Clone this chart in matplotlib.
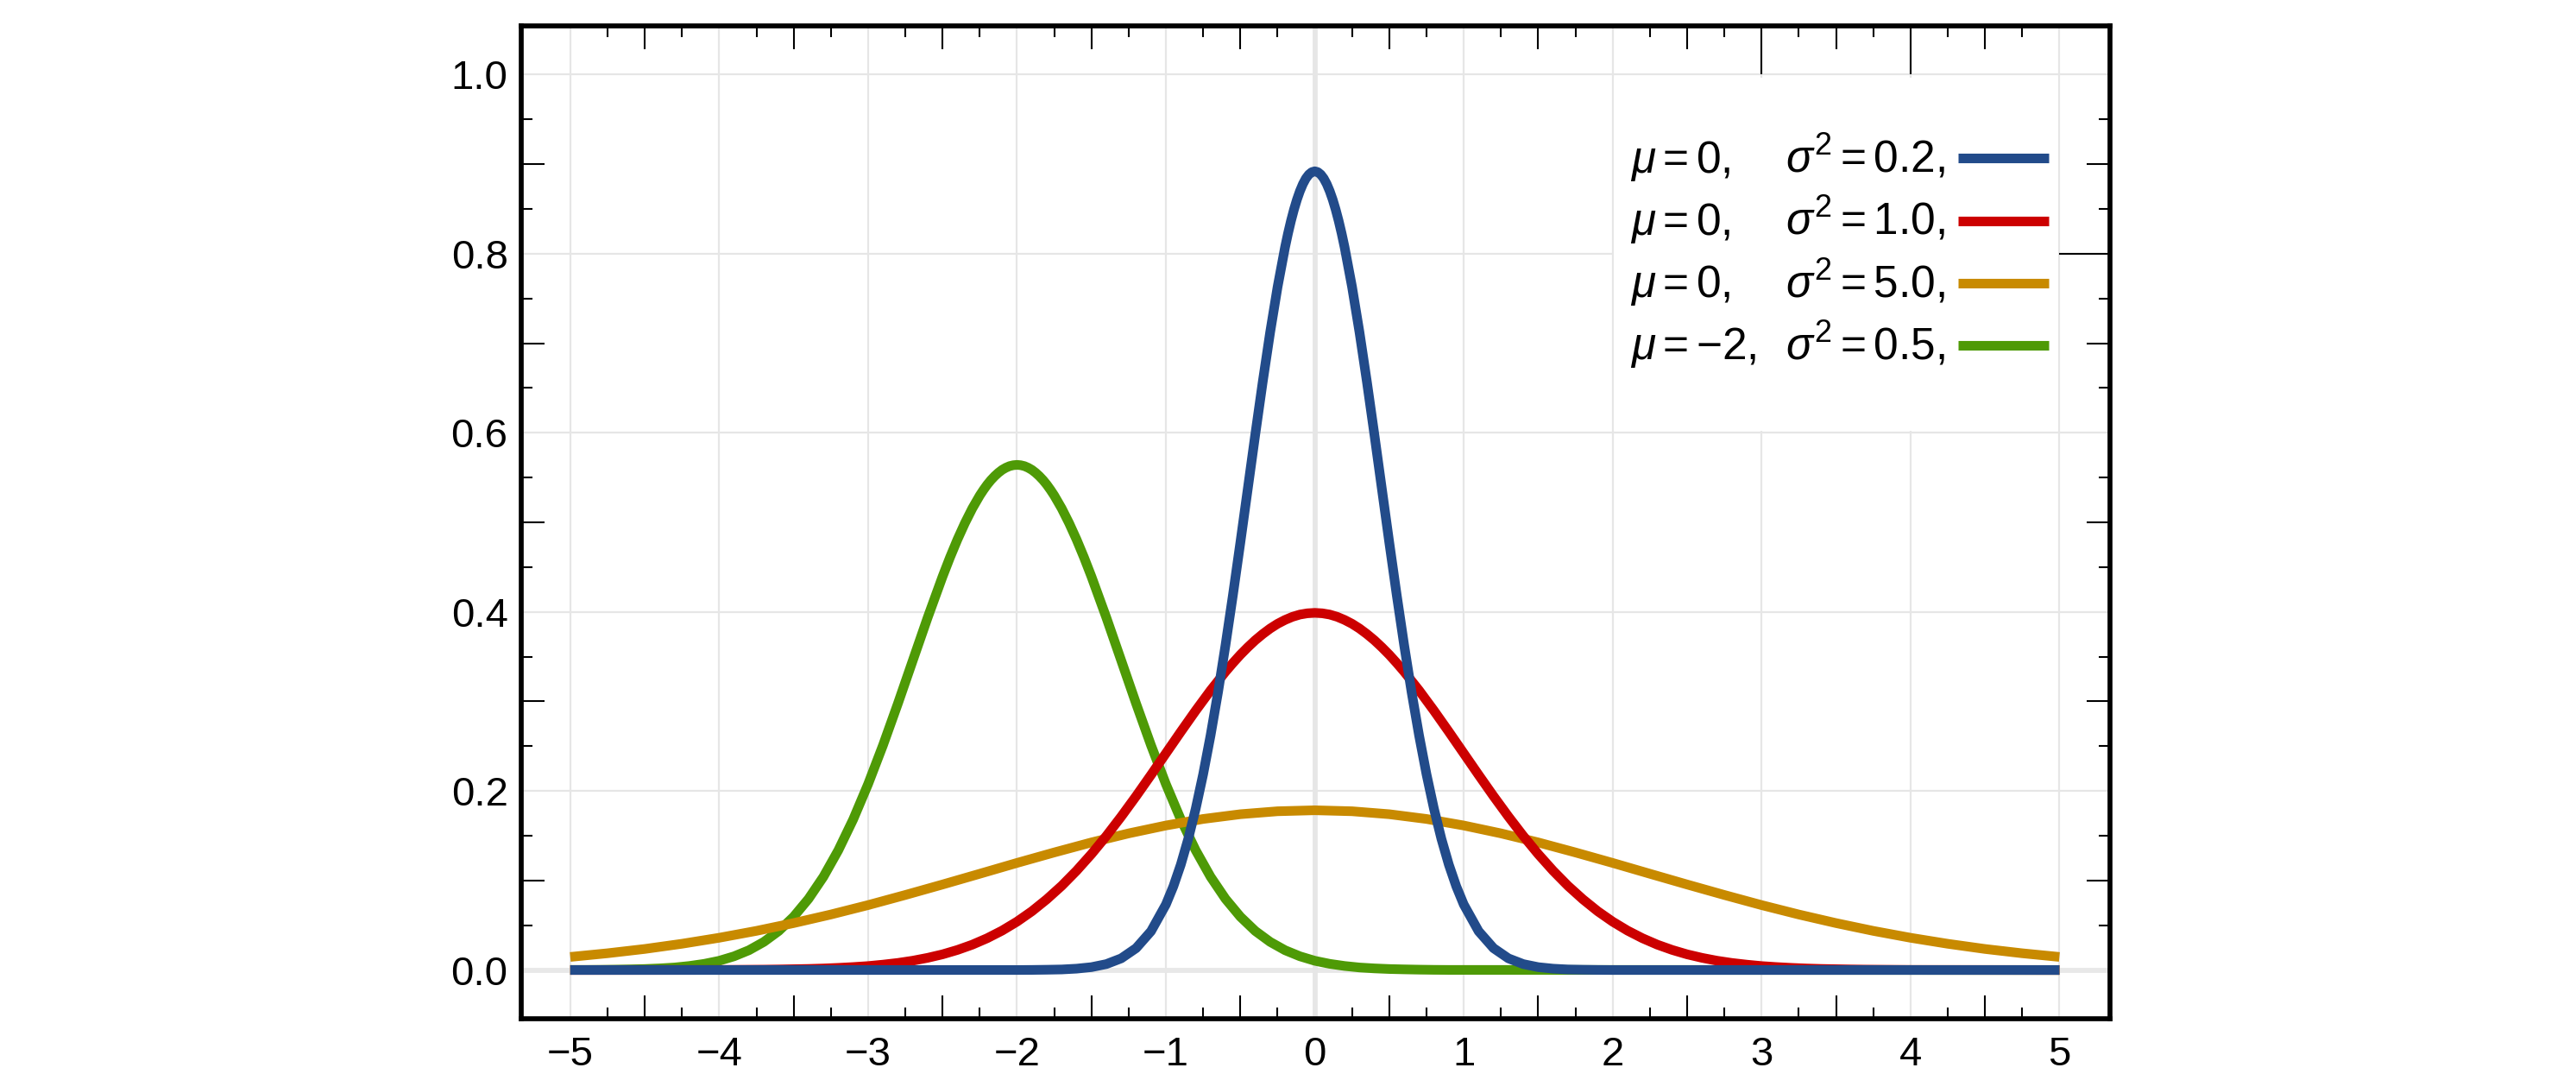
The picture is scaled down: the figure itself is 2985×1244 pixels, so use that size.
import matplotlib
matplotlib.use('Agg')
import matplotlib.pyplot as plt
import numpy as np
from matplotlib.patches import Rectangle

plt.rcParams['font.family'] = ['Liberation Sans', 'DejaVu Sans']
plt.rcParams['mathtext.fontset'] = 'custom'
plt.rcParams['mathtext.rm'] = 'Liberation Sans'
plt.rcParams['mathtext.it'] = 'Liberation Sans:italic'
plt.rcParams['mathtext.bf'] = 'Liberation Sans:bold'

## values (denser sampling where the curves bend sharply)

# mu=0, sigma^2=0.2
x_blue = np.concatenate(([-5.0], np.linspace(-2.0, -1.1, 10), np.linspace(-1.0, -0.25, 16),
                         np.linspace(-0.2, 0.2, 21), np.linspace(0.25, 1.0, 16),
                         np.linspace(1.1, 2.0, 10), [5.0]))
y_blue = [0.0,
          0.0000, 0.0001, 0.0003, 0.0006, 0.0015, 0.0032, 0.0066, 0.0130, 0.0244, 0.0433,
          0.0732, 0.0934, 0.1177, 0.1465, 0.1801, 0.2186, 0.2621, 0.3102, 0.3627, 0.4188,
          0.4775, 0.5377, 0.5980, 0.6567, 0.7123, 0.7630,
          0.8072, 0.8227, 0.8368, 0.8494, 0.8605, 0.8700, 0.8779, 0.8841, 0.8885, 0.8912,
          0.8921,
          0.8912, 0.8885, 0.8841, 0.8779, 0.8700, 0.8605, 0.8494, 0.8368, 0.8227, 0.8072,
          0.7630, 0.7123, 0.6567, 0.5980, 0.5377, 0.4775, 0.4188, 0.3627, 0.3102, 0.2621,
          0.2186, 0.1801, 0.1465, 0.1177, 0.0934, 0.0732,
          0.0433, 0.0244, 0.0130, 0.0066, 0.0032, 0.0015, 0.0006, 0.0003, 0.0001, 0.0000,
          0.0]

# mu=0, sigma^2=1.0
x_red = np.concatenate(([-5.0], np.linspace(-4.0, -0.7, 34), np.linspace(-0.6, 0.6, 25),
                        np.linspace(0.7, 4.0, 34), [5.0]))
y_red = [0.0,
         0.0001, 0.0002, 0.0003, 0.0004, 0.0006, 0.0009, 0.0012, 0.0017, 0.0024, 0.0033,
         0.0044, 0.0060, 0.0079, 0.0104, 0.0136, 0.0175, 0.0224, 0.0283, 0.0355, 0.0440,
         0.0540, 0.0656, 0.0790, 0.0940, 0.1109, 0.1295, 0.1497, 0.1714, 0.1942, 0.2179,
         0.2420, 0.2661, 0.2897, 0.3123,
         0.3332, 0.3429, 0.3521, 0.3605, 0.3683, 0.3752, 0.3814, 0.3867, 0.3910, 0.3945,
         0.3970, 0.3984, 0.3989, 0.3984, 0.3970, 0.3945, 0.3910, 0.3867, 0.3814, 0.3752,
         0.3683, 0.3605, 0.3521, 0.3429, 0.3332,
         0.3123, 0.2897, 0.2661, 0.2420, 0.2179, 0.1942, 0.1714, 0.1497, 0.1295, 0.1109,
         0.0940, 0.0790, 0.0656, 0.0540, 0.0440, 0.0355, 0.0283, 0.0224, 0.0175, 0.0136,
         0.0104, 0.0079, 0.0060, 0.0044, 0.0033, 0.0024, 0.0017, 0.0012, 0.0009, 0.0006,
         0.0004, 0.0003, 0.0002, 0.0001,
         0.0]

# mu=0, sigma^2=5.0
x_orange = np.linspace(-5.0, 5.0, 41)
y_orange = [0.0146, 0.0187, 0.0235, 0.0293, 0.0360, 0.0437, 0.0524, 0.0620, 0.0725, 0.0838,
            0.0955, 0.1075, 0.1196, 0.1313, 0.1425, 0.1526, 0.1614, 0.1687, 0.1740, 0.1773,
            0.1784,
            0.1773, 0.1740, 0.1687, 0.1614, 0.1526, 0.1425, 0.1313, 0.1196, 0.1075, 0.0955,
            0.0838, 0.0725, 0.0620, 0.0524, 0.0437, 0.0360, 0.0293, 0.0235, 0.0187, 0.0146]

# mu=-2, sigma^2=0.5
x_green = np.concatenate((np.linspace(-5.0, -2.5, 26), np.linspace(-2.45, -2.3, 4),
                          np.linspace(-2.25, -1.75, 21), np.linspace(-1.7, -1.55, 4),
                          np.linspace(-1.5, 1.0, 26), [5.0]))
y_green = [0.0001, 0.0001, 0.0002, 0.0004, 0.0007, 0.0011, 0.0018, 0.0028, 0.0045, 0.0069,
           0.0103, 0.0153, 0.0221, 0.0314, 0.0436, 0.0595, 0.0795, 0.1041, 0.1337, 0.1682,
           0.2076, 0.2510, 0.2975, 0.3456, 0.3936, 0.4394,
           0.4608, 0.4808, 0.4991, 0.5156,
           0.5300, 0.5363, 0.5421, 0.5472, 0.5516, 0.5554, 0.5586, 0.5610, 0.5628, 0.5638,
           0.5642,
           0.5638, 0.5628, 0.5610, 0.5586, 0.5554, 0.5516, 0.5472, 0.5421, 0.5363, 0.5300,
           0.5156, 0.4991, 0.4808, 0.4608,
           0.4394, 0.3936, 0.3456, 0.2975, 0.2510, 0.2076, 0.1682, 0.1337, 0.1041, 0.0795,
           0.0595, 0.0436, 0.0314, 0.0221, 0.0153, 0.0103, 0.0069, 0.0045, 0.0028, 0.0018,
           0.0011, 0.0007, 0.0004, 0.0002, 0.0001, 0.0001,
           0.0]

mu_labels = [r'$\mu=0,$', r'$\mu=0,$', r'$\mu=0,$', r'$\mu={-}2,$']
sig_labels = [r'$\sigma^2=0.2,$', r'$\sigma^2=1.0,$', r'$\sigma^2=5.0,$', r'$\sigma^2=0.5,$']
colors = ['#224b8a', '#cc0000', '#c88a00', '#4e9a06']

x_labels = np.arange(-5, 6)
y_labels = np.arange(0, 1.01, 0.2)

## plot

fig = plt.figure(figsize=(29.85, 12.44), dpi=100)
ax = fig.add_axes([0.2023, 0.0514, 0.6168, 0.9245])
xmin, xmax = -5.33, 5.34
ymin, ymax = -0.0545, 1.0545
ax.set_xlim(xmin, xmax)
ax.set_ylim(ymin, ymax)

lw = 8.0
ax.plot(x_green, y_green, color=colors[3], lw=lw, solid_capstyle='butt', zorder=3)
ax.plot(x_orange, y_orange, color=colors[2], lw=lw, solid_capstyle='butt', zorder=4)
ax.plot(x_red, y_red, color=colors[1], lw=lw, solid_capstyle='butt', zorder=5)
ax.plot(x_blue, y_blue, color=colors[0], lw=lw, solid_capstyle='butt', zorder=6)

# grid, zero lines a bit heavier
ax.set_axisbelow(True)
ax.grid(which='major', color='#e6e6e6', lw=1.6)
ax.axhline(0, color='#e8e8e8', lw=4.2, zorder=0.6)
ax.axvline(0, color='#e6e6e6', lw=4.2, zorder=0.6)

# labels at integers / 0.2 steps, no tick marks there
ax.set_xticks(x_labels)
ax.set_yticks(y_labels)
ax.set_yticklabels([f'{v:.1f}' for v in y_labels])
ax.set_xticks(np.arange(-4.5, 5, 1.0), minor=True)
ax.set_yticks(np.arange(0.1, 1.0, 0.2), minor=True)
ax.tick_params(which='major', length=0, labelsize=34)
ax.tick_params(axis='x', which='major', pad=14)
ax.tick_params(axis='y', which='major', pad=11)
ax.tick_params(which='minor', direction='in', length=19.5, width=1.5,
               top=True, bottom=True, left=True, right=True)

# short quarter ticks
qx = list(np.arange(-4.75, 5, 0.5))
qy = list(np.arange(0.05, 1.0, 0.1))
for loc in ['bottom', 'top']:
    sec = ax.secondary_xaxis(loc)
    sec.set_xticks(qx, labels=[])
    sec.tick_params(direction='in', length=9.5, width=1.5)
    sec.spines[loc].set_visible(False)
for loc in ['left', 'right']:
    sec = ax.secondary_yaxis(loc)
    sec.set_yticks(qy, labels=[])
    sec.tick_params(direction='in', length=9.5, width=1.5)
    sec.spines[loc].set_visible(False)

for s in ax.spines.values():
    s.set_linewidth(4.1)
    s.set_zorder(10)

# legend panel
ax.add_patch(Rectangle((2.005, 0.602), 2.99, 0.395, fc='white', ec='none', zorder=1))
ax.vlines([3, 4], 1.0, ymax, color='black', lw=1.5, zorder=2)
ax.hlines([0.8], 5.0, xmax, color='black', lw=1.5, zorder=2)

for i in range(4):
    yb = 0.891 - i * 0.0697
    ax.text(2.12, yb, mu_labels[i], fontsize=37, va='baseline', ha='left', zorder=7)
    ax.text(3.16, yb, sig_labels[i], fontsize=37, va='baseline', ha='left', zorder=7)
    ax.plot([4.32, 4.93], [yb + 0.0155, yb + 0.0155], color=colors[i], lw=lw,
            solid_capstyle='butt', zorder=7)

plt.savefig('out.png', dpi=100)
plt.close()
